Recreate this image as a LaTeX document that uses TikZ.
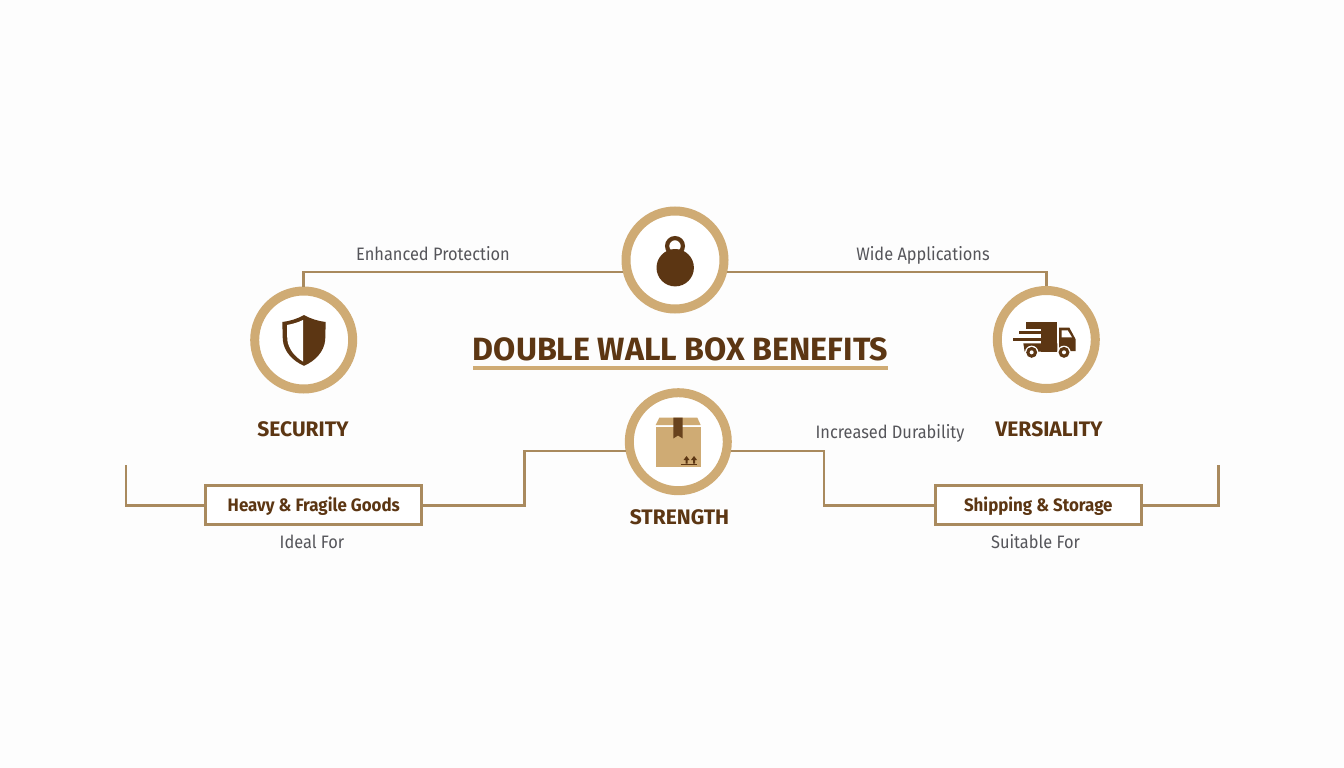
\documentclass[tikz,border=0pt]{standalone}
\usepackage{fontspec}
\setmainfont{Fira Sans}
\newfontfamily\softfont[FakeStretch=0.91]{Fira Sans}
\newfontfamily\boxfont[FakeStretch=0.94]{Fira Sans}
\usetikzlibrary{calc}
\definecolor{pagebg}{HTML}{FDFDFD}
\definecolor{ringtan}{HTML}{CFAB74}
\definecolor{linktan}{HTML}{A98A5E}
\definecolor{darkbrown}{HTML}{5C3613}
\definecolor{labelgrey}{HTML}{55555A}
\tikzset{
  ringnode/.style={circle,draw=ringtan,line width=9pt,fill=white,minimum size=98pt,inner sep=0pt},
  linkline/.style={draw=linktan,line width=2.8pt,line join=miter},
  usebox/.style={rectangle,draw=linktan,line width=2.8pt,fill=white,inner sep=0pt,minimum height=39pt,
    text height=13pt,text depth=1pt,text=darkbrown,font=\boxfont\fontsize{18}{20}\selectfont\bfseries},
  headtext/.style={text=darkbrown,inner sep=0pt,font=\fontsize{21}{24}\selectfont\bfseries},
  softtext/.style={text=labelgrey,inner sep=0pt,text height=14pt,text depth=1.5pt,font=\softfont\fontsize{18}{20}\selectfont},
  titletext/.style={text=darkbrown,inner sep=0pt,font=\fontsize{32.2}{36}\selectfont\bfseries}
}
\begin{document}
\begin{tikzpicture}[x=1pt,y=-1pt]
    \fill[pagebg] (0,0) rectangle (1344,768);

    \node[ringnode] (lock) at (675,260) {};
    \node[ringnode] (shield) at (303.7,340) {};
    \node[ringnode] (truck) at (1046.3,339.5) {};
    \node[ringnode] (carton) at (678.3,441.7) {};

    \node[usebox,minimum width=216pt] (heavy) at (313.8,505.3) {Heavy \& Fragile Goods};
    \node[usebox,minimum width=206pt] (shipping) at (1038.3,505.3) {Shipping \& Storage};

    \node[titletext] (title) at (680.5,349) {DOUBLE WALL BOX BENEFITS};
    \coordinate (ruleL) at (473,368);
    \coordinate (ruleR) at (888,368);
    \draw[ringtan,line width=4pt] (ruleL) -- (ruleR);

    \node[headtext] (securitytext) at (303,429.5) {SECURITY};
    \node[headtext] (versialitytext) at (1049,429.5) {VERSIALITY};
    \node[headtext] (strengthtext) at (679.5,517) {STRENGTH};

    \node[softtext] (protectiontext) at (433,254) {Enhanced Protection};
    \node[softtext] (applicationstext) at (923,254) {Wide Applications};
    \node[softtext] (durabilitytext) at (890,432) {Increased Durability};
    \node[softtext] (idealtext) at (312,542) {Ideal For};
    \node[softtext] (suitabletext) at (1035.5,542) {Suitable For};

    \coordinate (farL) at (126,465);
    \coordinate (farR) at (1218.5,465);
    \coordinate (stepL) at (524.5,0 |- carton.190);
    \coordinate (stepR) at (824,0 |- carton.-10);

    \draw[linkline] (shield.north) |- (lock.193);
    \draw[linkline] (truck.north) |- (lock.-13);
    \draw[linkline] (farL) |- (heavy.west);
    \draw[linkline] (heavy.east) -| (stepL) -- (carton.190);
    \draw[linkline] (carton.-10) -- (stepR) |- (shipping.west);
    \draw[linkline] (shipping.east) -| (farR);

    % weight
    \draw[darkbrown,line width=4.2pt] (675,246) circle (7.9);
    \fill[darkbrown] (675.2,267.7) circle (18.7);

    % shield
    \fill[darkbrown] (304,315) .. controls (297,319) and (290,321) .. (282.3,322)
      -- (282.8,340) .. controls (284,352) and (293,361) .. (304,365.8)
      .. controls (315,361) and (324,352) .. (325.2,340) -- (325.7,322)
      .. controls (318,321) and (311,319) .. (304,315) -- cycle;
    \fill[white] (303,320) .. controls (298,322.5) and (292.5,324) .. (287,325)
      -- (287.3,340) .. controls (288.5,349) and (295,357) .. (303,361.5) -- cycle;

    % carton
    \fill[ringtan] (655.7,426.7) rectangle (700.7,467.3);
    \fill[ringtan] (659.3,417.7) -- (697.3,417.7) -- (700.7,425) -- (655.7,425) -- cycle;
    \fill[darkbrown!90!ringtan] (673.3,417.7) -- (682.7,417.7) -- (682.7,438.5) -- (678,435.5) -- (673.3,438.5) -- cycle;
    \foreach \ax in {686.5,694}{
      \fill[darkbrown] (\ax,456) -- (\ax+3,460) -- (\ax+1,460) -- (\ax+1,463.5) -- (\ax-1,463.5) -- (\ax-1,460) -- (\ax-3,460) -- cycle;
    }
    \draw[darkbrown,line width=1pt] (681,464.7) -- (697,464.7);

    % lorry
    \begin{scope}[shift={(980,280)},x=0.3333pt,y=-0.3333pt]
      \fill[darkbrown] (137,127) rectangle (232,147);
      \fill[darkbrown] (118,153) rectangle (232,163);
      \fill[darkbrown] (98,173) rectangle (232,183);
      \fill[darkbrown] (130,190) -- (232,190) -- (232,215) -- (134,215) -- cycle;
      \fill[darkbrown] (182,127) rectangle (232,215);
      \fill[darkbrown] (237,143) -- (268,143) -- (287,178) -- (287,213) -- (237,215) -- cycle;
      \fill[white] (245,151) -- (263,151) -- (276,172) -- (245,172) -- cycle;
      \foreach \wx in {155,252}{
        \fill[white] (\wx,217) circle (20);
        \fill[darkbrown] (\wx,217) circle (16.5);
        \fill[white] (\wx,217) circle (6);
      }
    \end{scope}
\end{tikzpicture}
\end{document}
